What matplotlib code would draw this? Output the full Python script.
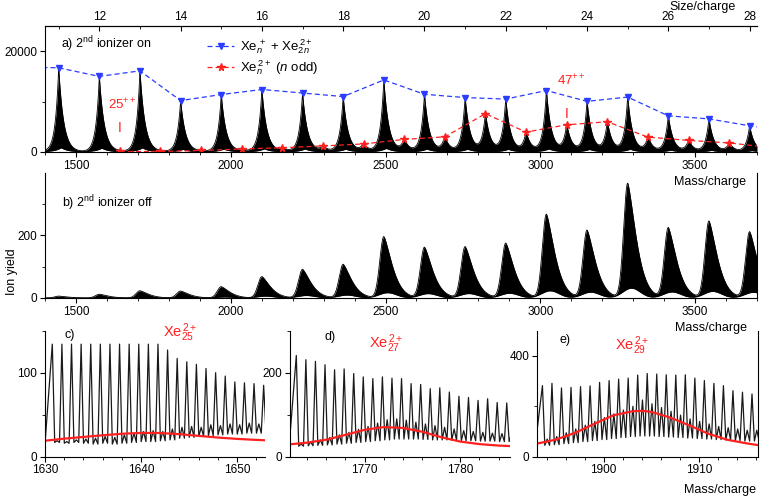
import numpy as np
import matplotlib
matplotlib.use('Agg')
import matplotlib.pyplot as plt
from matplotlib.ticker import MultipleLocator

plt.rcParams['font.family'] = ['Liberation Sans', 'DejaVu Sans']
plt.rcParams['mathtext.fontset'] = 'custom'
plt.rcParams['mathtext.rm'] = 'Liberation Sans'
plt.rcParams['mathtext.it'] = 'Liberation Sans:italic'
plt.rcParams['font.size'] = 8.5
plt.rcParams['axes.linewidth'] = 0.8

XE = 131.29   # mean Xe mass, size/charge -> mass/charge

# ---- panel a: peak maxima (2nd ionizer on)
size_int = [10, 11, 12, 13, 14, 15, 16, 17, 18, 19, 20, 21, 22, 23, 24, 25, 26, 27, 28, 29]
yield_int_on = [16900, 16700, 15000, 16100, 10200, 11400, 12400, 11700, 11000, 14300,
                11450, 10800, 10500, 12200, 10050, 10900, 7170, 6570, 5200, 4000]
size_half = [12.5, 13.5, 14.5, 15.5, 16.5, 17.5, 18.5, 19.5, 20.5, 21.5, 22.5, 23.5,
             24.5, 25.5, 26.5, 27.5, 28.5]
yield_half_on = [100, 100, 300, 600, 850, 1200, 1600, 2500, 3000, 7600, 3950, 5400,
                 6000, 2950, 2300, 1800, 900]

# ---- panel b: peak maxima (2nd ionizer off), sizes 11..28
size_b = [11, 12, 13, 14, 15, 16, 17, 18, 19, 20, 21, 22, 23, 24, 25, 26, 27, 28]
yield_off = [6, 12, 23, 22, 36, 68, 91, 107, 195, 161, 163, 174, 266, 215, 364, 223, 244, 210]

# ---- panels c-e: zoomed spectra (peak tops, small peaks between, valleys) and fits
c_first = 1630.76
c_tops = [134, 134, 134, 134, 134, 134, 134, 134, 134, 134, 134, 134,
          127, 117, 113, 110, 105, 100, 96, 89, 88, 87, 85]
c_bumps = [19, 18, 20, 21, 22, 24, 23, 26, 28, 30, 31, 30, 33, 35, 36, 35, 38, 37, 39, 38, 40, 39]
c_valleys = [17, 16, 17, 16, 15, 16, 15, 16, 17, 18, 18, 19, 20, 22, 23, 24, 25, 26, 27, 27, 28, 28]
c_fit_m = [1630, 1632, 1634, 1636, 1638, 1640, 1642, 1644, 1646, 1648, 1650, 1652, 1653]
c_fit_y = [19, 21.5, 23.5, 25.5, 27.3, 28.3, 28.2, 26.8, 24.8, 22.8, 21.2, 20.0, 19.5]

d_first = 1762.86
d_tops = [241, 231, 227, 219, 207, 209, 198, 190, 186, 190, 187, 186, 174, 172, 162,
          164, 154, 144, 141, 134, 138, 129, 128]
d_bumps = [30, 35, 40, 46, 52, 58, 65, 72, 80, 88, 90, 87, 82, 78, 74, 70, 66, 62, 60, 58, 56, 55]
d_valleys = [25, 26, 27, 28, 30, 32, 34, 36, 38, 40, 42, 42, 42, 41, 40, 40, 39, 38, 38, 37, 37, 36]
d_fit_m = [1762, 1764, 1766, 1768, 1770, 1772, 1774, 1776, 1778, 1780, 1782, 1784, 1785.5]
d_fit_y = [29, 33.5, 40.5, 52, 64, 70.5, 68.5, 59.5, 46.5, 36, 30, 26.5, 25]

e_first = 1893.57
e_tops = [282, 291, 273, 275, 278, 281, 295, 302, 308, 312, 324, 330, 328, 325, 324,
          325, 312, 302, 291, 282, 262, 256, 249]
e_bumps = [70, 80, 95, 110, 125, 140, 155, 170, 185, 200, 225, 210, 195, 180, 165,
           150, 140, 130, 120, 115, 110, 105]
e_valleys = [45, 48, 52, 56, 60, 64, 68, 72, 76, 80, 82, 82, 80, 78, 76, 74, 72, 70, 68, 66, 64, 62]
e_fit_m = [1893, 1895, 1897, 1899, 1901, 1903, 1904, 1905, 1907, 1909, 1911, 1913, 1915, 1916.2]
e_fit_y = [52, 68, 95, 130, 164, 180, 182, 178, 155, 124, 91, 67, 53, 46]

blue = '#2a3cff'
red = '#ff2020'


def peak_a(m, c, h):
    d = m - c
    return h * np.where(d < 0, np.exp(d / 11.0), np.exp(-d / 16.0))


def peak_b(m, c, h):
    d = m - c
    return h * np.where(d < 0, np.exp(-0.5 * (d / 13.0) ** 2),
                        np.exp(-(np.abs(d) / 38.0) ** 1.4))


def comb(first, tops, bumps, valleys):
    xs, ys = [first - 0.75], [valleys[0]]
    for k, t in enumerate(tops):
        xs.append(first + k)
        ys.append(t)
        j = min(k, len(bumps) - 1)
        xs += [first + k + 0.25, first + k + 0.5, first + k + 0.75]
        ys += [valleys[j], bumps[j], valleys[j]]
    return xs, ys


fig = plt.figure(figsize=(7.6, 4.98), dpi=100)
W, H = 760.0, 498.0


def box(l, t, r, b):
    return [l / W, 1 - b / H, (r - l) / W, (b - t) / H]


ax_a = fig.add_axes(box(45, 26, 757, 152))
ax_b = fig.add_axes(box(45, 172.7, 757, 298))
ax_c = fig.add_axes(box(45, 330.7, 265, 456.7))
ax_d = fig.add_axes(box(290, 330.7, 510, 456.7))
ax_e = fig.add_axes(box(537, 330.7, 758, 456.7))

m = np.linspace(1400, 3700, 8000)

# panel a spectrum
U = np.zeros_like(m)
L = np.zeros_like(m)
for s, h in zip(size_int, yield_int_on):
    U += peak_a(m, s * XE, h)
    L += 0.05 * h * np.exp(-np.abs(m - s * XE - 8) / 22.0)
for s, h in zip(size_half, yield_half_on):
    U += peak_a(m, s * XE, h)
L = np.minimum(L, U)
ax_a.fill_between(m, L, U, color='k', lw=0)
ax_a.plot(m, U, color='k', lw=0.6)
ax_a.plot(m, L, color='k', lw=0.5)

ax_a.plot(np.array(size_int) * XE, yield_int_on, ls=(0, (4, 2.5)), color=blue, lw=0.9,
          marker='v', ms=4, mfc=blue, mec=blue, label=r'Xe$_{n}^{\,+}$ + Xe$_{2n}^{\,2+}$')
ax_a.plot(np.array(size_half) * XE, yield_half_on, ls=(0, (4, 2.5)), color=red, lw=0.9,
          marker='*', ms=5.5, mfc=red, mec=red, label=r'Xe$_{n}^{\,2+}$ ($n$ odd)')

ax_a.set_xlim(1400, 3700)
ax_a.set_ylim(0, 25000)
ax_a.xaxis.set_major_locator(MultipleLocator(500))
ax_a.xaxis.set_minor_locator(MultipleLocator(100))
ax_a.yaxis.set_major_locator(MultipleLocator(20000))
ax_a.yaxis.set_minor_locator(MultipleLocator(10000))
ax_a.spines['right'].set_visible(False)

top = ax_a.secondary_xaxis('top', functions=(lambda x: x / XE, lambda s: s * XE))
top.xaxis.set_major_locator(MultipleLocator(2))
top.xaxis.set_minor_locator(MultipleLocator(1))
top.tick_params(which='major', direction='in', length=3.5, width=0.8, pad=2, labelsize=8.5)
top.tick_params(which='minor', direction='in', length=2, width=0.6)

ax_a.text(0.0225, 0.82, r'a) 2$^{\mathrm{nd}}$ ionizer on', transform=ax_a.transAxes,
          va='baseline', ha='left', fontsize=9)
ax_a.legend(loc='upper left', bbox_to_anchor=(0.228, 0.91), frameon=False,
            handlelength=2.0, handletextpad=0.5, labelspacing=0.2, borderpad=0,
            borderaxespad=0, fontsize=9.5)

ax_a.text(12.5 * XE + 8, 8550, r'25$^{++}$', color=red, ha='center', va='baseline', fontsize=9.5)
ax_a.text(12.5 * XE, 4000, 'I', color=red, ha='center', va='baseline', fontsize=10)
ax_a.text(23.5 * XE + 14, 13290, r'47$^{++}$', color=red, ha='center', va='baseline', fontsize=9.5)
ax_a.text(23.5 * XE, 6770, 'I', color=red, ha='center', va='baseline', fontsize=10)

# panel b spectrum
Ub = np.zeros_like(m)
Lb = np.zeros_like(m)
for s, h in zip(size_b, yield_off):
    Ub += peak_b(m, s * XE, h)
    Lb += 0.085 * h * np.exp(-0.5 * ((m - s * XE - 12) / 28.0) ** 2)
Lb = np.minimum(Lb, Ub)
ax_b.fill_between(m, Lb, Ub, color='k', lw=0)
ax_b.plot(m, Ub, color='k', lw=0.6)
ax_b.plot(m, Lb, color='k', lw=0.5)
ax_b.set_xlim(1400, 3700)
ax_b.set_ylim(0, 398)
ax_b.xaxis.set_major_locator(MultipleLocator(500))
ax_b.xaxis.set_minor_locator(MultipleLocator(100))
ax_b.yaxis.set_major_locator(MultipleLocator(200))
ax_b.yaxis.set_minor_locator(MultipleLocator(100))
ax_b.spines['top'].set_visible(False)
ax_b.text(0.024, 0.726, r'b) 2$^{\mathrm{nd}}$ ionizer off', transform=ax_b.transAxes,
          va='baseline', ha='left', fontsize=9)

# panels c-e
zooms = [
    (ax_c, c_first, c_tops, c_bumps, c_valleys, c_fit_m, c_fit_y, (1630, 1652.9), (0, 150),
     100, 50, 'c)', r'Xe$_{25}^{\,2+}$', (0.09, 0.965), (0.535, 0.948)),
    (ax_d, d_first, d_tops, d_bumps, d_valleys, d_fit_m, d_fit_y, (1762.2, 1785.2), (0, 300),
     200, 100, 'd)', r'Xe$_{27}^{\,2+}$', (0.159, 0.95), (0.359, 0.86)),
    (ax_e, e_first, e_tops, e_bumps, e_valleys, e_fit_m, e_fit_y, (1893, 1916.2), (0, 500),
     400, 200, 'e)', r'Xe$_{29}^{\,2+}$', (0.1, 0.926), (0.353, 0.847)),
]
for ax, first, tops, bumps, valleys, fm, fy, xl, yl, ymaj, ymin, lab, xe_lab, lpos, xpos in zooms:
    xs, ys = comb(first, tops, bumps, valleys)
    ax.plot(xs, ys, color='#1a1a1a', lw=0.9)
    ax.plot(fm, fy, color=red, lw=1.6)
    ax.set_xlim(*xl)
    ax.set_ylim(*yl)
    ax.xaxis.set_major_locator(MultipleLocator(10))
    ax.xaxis.set_minor_locator(MultipleLocator(2))
    ax.yaxis.set_major_locator(MultipleLocator(ymaj))
    ax.yaxis.set_minor_locator(MultipleLocator(ymin))
    ax.spines['top'].set_visible(False)
    if ax is not ax_e:
        ax.spines['right'].set_visible(False)
    ax.text(lpos[0], lpos[1], lab, transform=ax.transAxes, va='center', ha='left', fontsize=9)
    ax.text(xpos[0], xpos[1], xe_lab, transform=ax.transAxes, va='baseline', ha='left',
            color=red, fontsize=10.5, clip_on=False)

for ax in (ax_a, ax_b, ax_c, ax_d, ax_e):
    ax.tick_params(which='major', direction='out', length=3.5, width=0.8, pad=2)
    ax.tick_params(which='minor', direction='out', length=2.2, width=0.6)
    ax.tick_params(axis='both', labelsize=8.5)

fig.text(736 / W, 1 - 7 / H, 'Size/charge', ha='right', va='center', fontsize=9)
fig.text(746 / W, 1 - 182 / H, 'Mass/charge', ha='right', va='center', fontsize=9)
fig.text(747 / W, 1 - 328 / H, 'Mass/charge', ha='right', va='center', fontsize=9)
fig.text(756 / W, 1 - 490 / H, 'Mass/charge', ha='right', va='center', fontsize=9)
fig.text(12 / W, 1 - 272 / H, 'Ion yield', rotation=90, ha='center', va='center', fontsize=9)

fig.savefig('out.png', dpi=100)
